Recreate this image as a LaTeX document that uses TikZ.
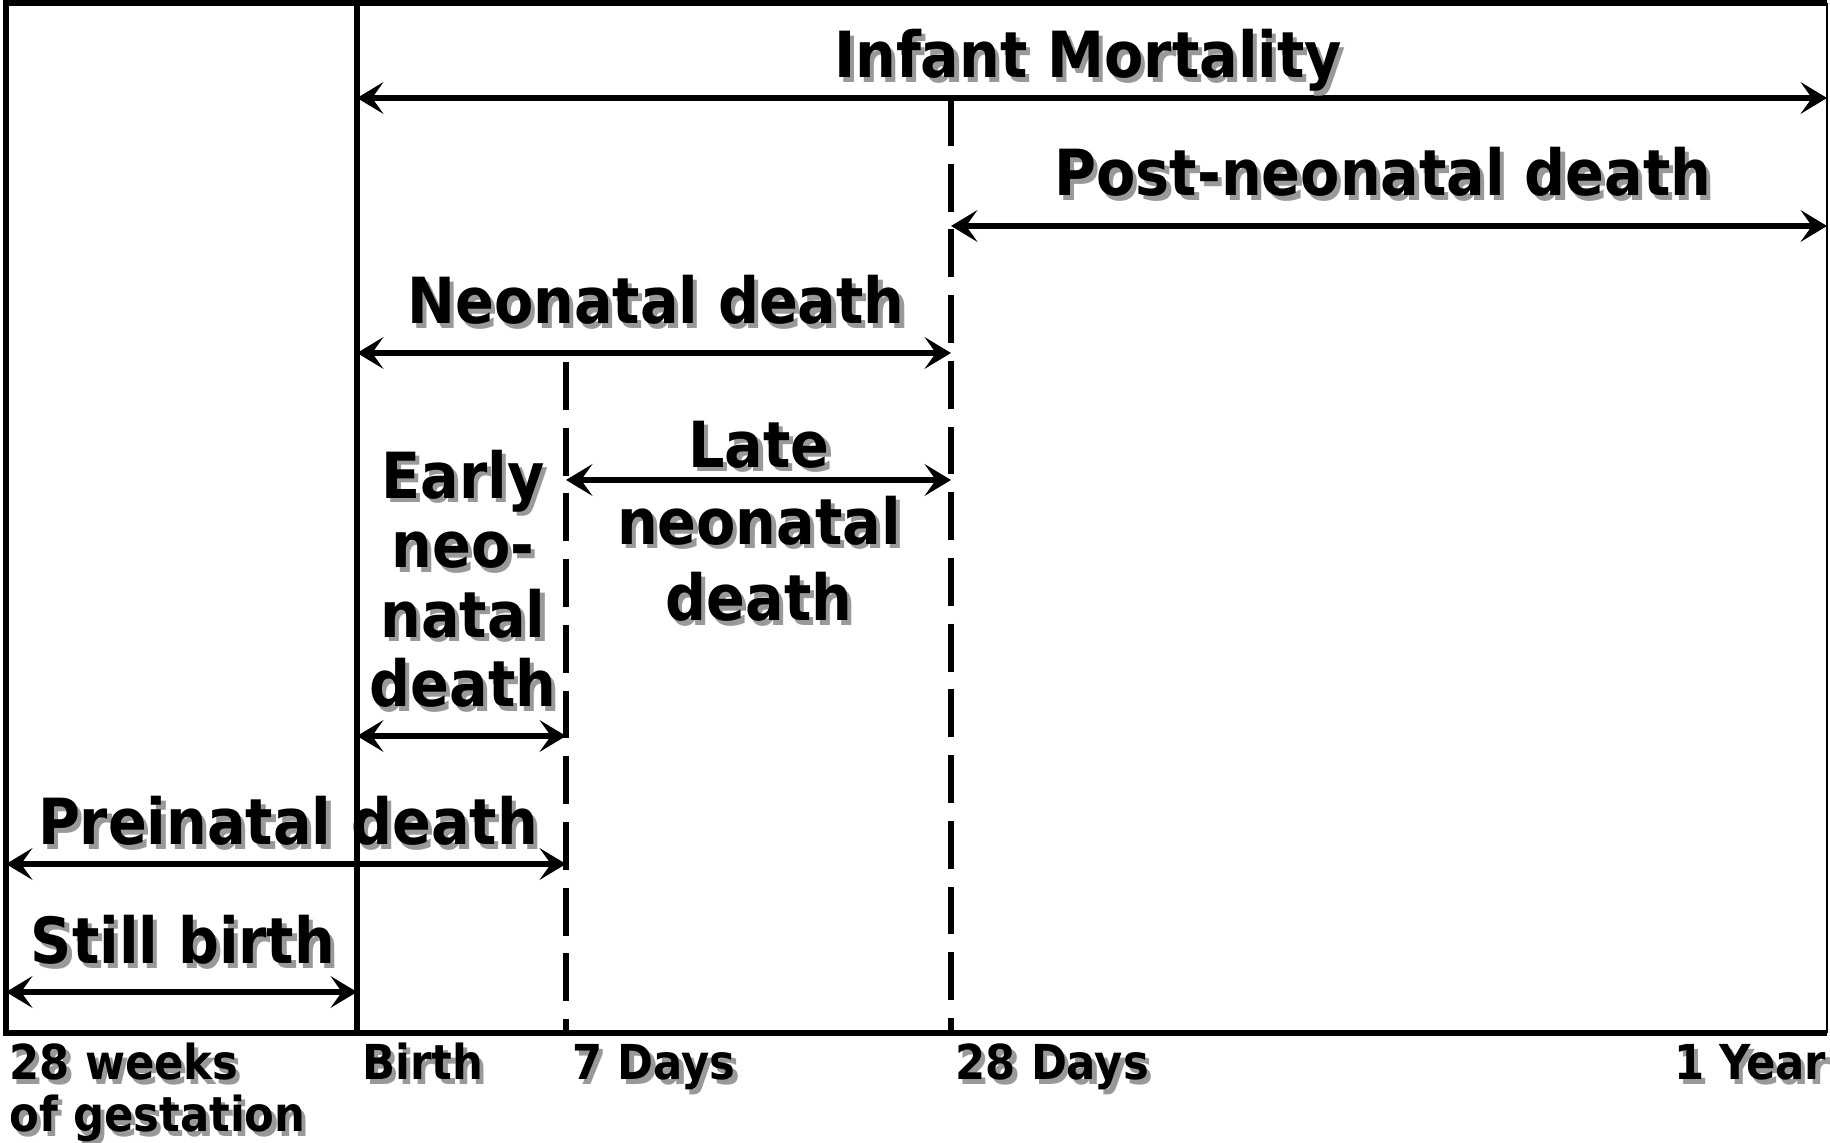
\documentclass[tikz,border=0pt]{standalone}
\usepackage{fontspec}
\setmainfont{DejaVu Sans Condensed}
\usetikzlibrary{arrows.meta}
\newcommand\shadowed[1]{\rlap{\kern1.2pt\raisebox{-1.2pt}{\color{black!40}#1}}#1}

\begin{document}
\begin{tikzpicture}[x=0.1mm,y=-0.1mm,>={Stealth[length=7.5pt,width=9pt,inset=3.2pt]},
  frame/.style={line width=1.6pt},
  daymark/.style={line width=1.6pt,dash pattern=on 13.6pt off 5.1pt},
  interval/.style={<->,line width=1.6pt},
  lbl/.style={inner sep=0pt,anchor=base,align=center,font=\fontsize{18.1}{21.9}\selectfont\bfseries},
  tick/.style={inner sep=0pt,anchor=base west,align=left,font=\fontsize{13.7}{14.8}\selectfont\bfseries}]
  \useasboundingbox (0,0) rectangle (1830,1143);

  % time axis
  \coordinate (w28) at (6,3);
  \coordinate (birth) at (357,3);
  \coordinate (d7) at (566,362);
  \coordinate (d28) at (951,98);
  \coordinate (yr1) at (1827,3);
  \coordinate (axis) at (0,1033);

  \draw[frame] (yr1) -- (w28) -- (w28 |- axis) -- (yr1 |- axis);
  \draw[line width=0.6pt] (yr1) -- (yr1 |- axis);
  \draw[frame] (birth) -- (birth |- axis);
  \draw[daymark] (d7) -- (d7 |- axis);
  \draw[daymark] (d28) -- (d28 |- axis);

  % heights of the arrows
  \coordinate (im) at (0,98);
  \coordinate (pn) at (0,226);
  \coordinate (nn) at (0,353);
  \coordinate (ln) at (0,480);
  \coordinate (en) at (0,736);
  \coordinate (pr) at (0,864);
  \coordinate (sb) at (0,992);

  \draw[interval] (birth |- im) -- (yr1 |- im);
  \draw[interval] (d28 |- pn) -- (yr1 |- pn);
  \draw[interval] (birth |- nn) -- (d28 |- nn);
  \draw[interval] (d7 |- ln) -- (d28 |- ln);
  \draw[interval] (birth |- en) -- (d7 |- en);
  \draw[interval] (w28 |- pr) -- (d7 |- pr);
  \draw[interval] (w28 |- sb) -- (birth |- sb);

  % base of a node of several lines = base of its last line
  \node[lbl] (infant) at (1088,78) {\shadowed{Infant Mortality}};
  \node[lbl] (postneo) at (1383,196) {\shadowed{Post-neonatal death}};
  \node[lbl] (neo) at (656,324) {\shadowed{Neonatal death}};
  \node[lbl] (lateneo) at (759,621) {\shadowed{Late}\\\shadowed{neonatal}\\\shadowed{death}};
  \node[lbl,font=\fontsize{18.1}{19.8}\selectfont\bfseries] (earlyneo) at (463,707)
    {\shadowed{Early}\\\shadowed{neo-}\\\shadowed{natal}\\\shadowed{death}};
  \node[lbl] (preinatal) at (288,845) {\shadowed{Preinatal death}};
  \node[lbl] (still) at (183,964) {\shadowed{Still birth}};

  \node[tick] (t-w28) at (9,1132) {\shadowed{28 weeks}\\\shadowed{of gestation}};
  \node[tick] (t-birth) at (362,1080) {\shadowed{Birth}};
  \node[tick] (t-d7) at (572,1080) {\shadowed{7 Days}};
  \node[tick] (t-d28) at (955,1080) {\shadowed{28 Days}};
  \node[tick,anchor=base east] (t-yr1) at (1827,1080) {\shadowed{1 Year}};
\end{tikzpicture}
\end{document}
